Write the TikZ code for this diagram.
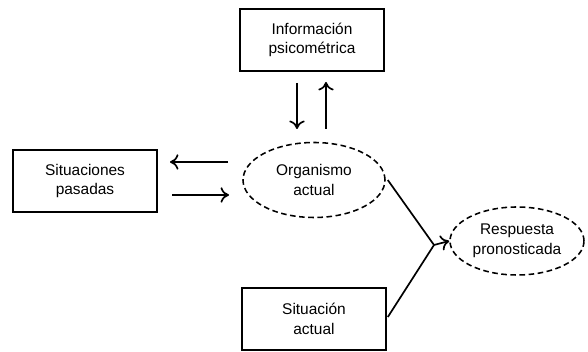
\documentclass[tikz,border=0pt]{standalone}
\usepackage{fontspec}
\setmainfont{Liberation Sans}
\usetikzlibrary{shapes.geometric,arrows.meta}
\begin{document}
\begin{tikzpicture}[x=0.025cm,y=-0.025cm,
  box/.style={draw,line width=1.2pt,minimum width=144*0.025cm,minimum height=62*0.025cm,align=center,inner sep=0pt,font=\fontsize{11}{14}\selectfont},
  oval/.style={draw,ellipse,dash pattern=on 4pt off 2.5pt,line width=1.1pt,align=center,inner sep=0pt,font=\fontsize{11}{14}\selectfont},
  arr/.style={line width=1.2pt,-{To[length=6pt,width=11pt]}},
  con/.style={line width=1.2pt}]
\useasboundingbox (0,0) rectangle (588,352);
\node[box] (info) at (312,40) {Información\\psicométrica};
\node[box] (past) at (85,181) {Situaciones\\pasadas};
\node[box] (sit) at (314,319) {Situación\\actual};
\node[oval,minimum width=142*0.025cm,minimum height=75*0.025cm] (org) at (314,180) {Organismo\\actual};
\node[oval,minimum width=134*0.025cm,minimum height=68*0.025cm] (resp) at (517,241) {Respuesta\\pronosticada};
\coordinate (d1) at (297,83);
\coordinate (d2) at (297,129);
\coordinate (u1) at (326,129);
\coordinate (u2) at (326,82);
\draw[arr] (d1) -- (d2);
\draw[arr] (u1) -- (u2);
\coordinate (l1) at (228,162);
\coordinate (l2) at (170,162);
\coordinate (r1) at (172,195);
\coordinate (r2) at (229,195);
\draw[arr] (l1) -- (l2);
\draw[arr] (r1) -- (r2);
\coordinate (m) at (434,245);
\draw[con] (org.east) ++(2,0) -- (m);
\draw[con] (sit.east) ++(1,-2) -- (m);
\draw[arr] (m) -- (resp.west);
\end{tikzpicture}
\end{document}
